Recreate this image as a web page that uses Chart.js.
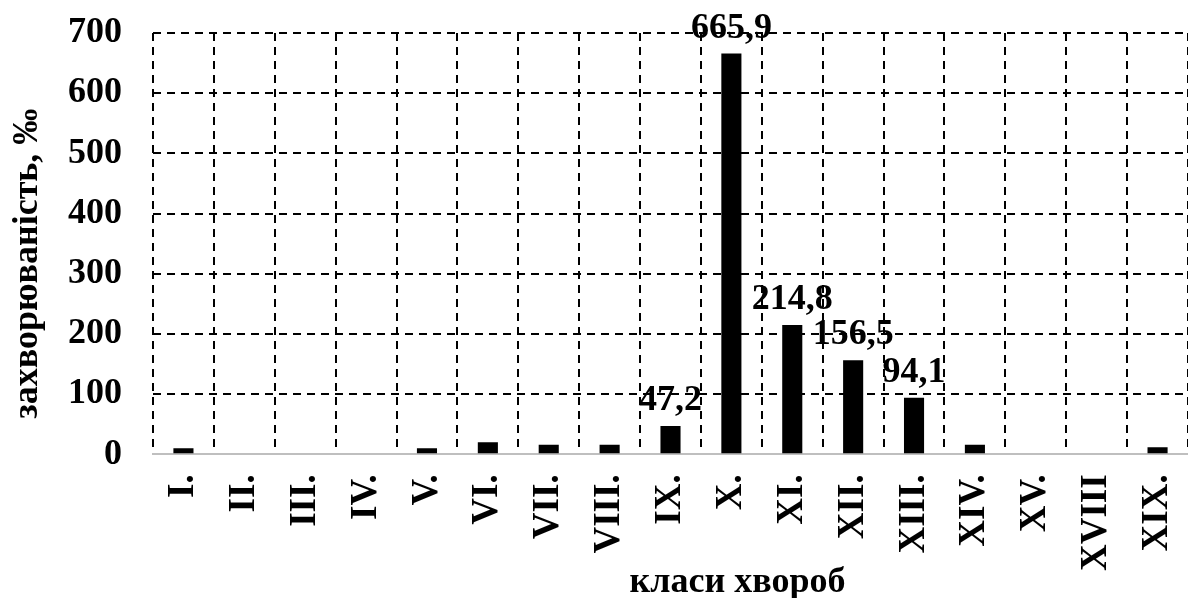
<!DOCTYPE html>
<html>
<head>
<meta charset="utf-8">
<script src="https://cdn.jsdelivr.net/npm/chart.js@4"></script>
<style>
  html, body { margin: 0; padding: 0; background: #fff; }
  #wrap { width: 1188px; height: 598px; position: relative; }
</style>
</head>
<body>
<div id="wrap"><canvas id="chart"></canvas></div>
<script>
// класи хвороб
const categories = ['I.', 'II.', 'III.', 'IV.', 'V.', 'VI.', 'VII.', 'VIII.', 'IX.', 'X.', 'XI.', 'XII.', 'XIII.', 'XIV.', 'XV.', 'XVIII', 'XIX.'];
// захворюваність, ‰
const values = [10, 0, 0, 0, 10, 20, 16, 16, 47.2, 665.9, 214.8, 156.5, 94.1, 16, 0, 0, 12];
const valueLabels = ['', '', '', '', '', '', '', '', '47,2', '665,9', '214,8', '156,5', '94,1', '', '', '', ''];
const yTicks = [0, 100, 200, 300, 400, 500, 600, 700];

const serif = '"Liberation Serif", "Times New Roman", serif';

// value labels over the bars + both axis titles
const labelsPlugin = {
  id: 'barLabels',
  afterDatasetsDraw(chart) {
    const ctx = chart.ctx;
    const meta = chart.getDatasetMeta(0);
    ctx.save();
    ctx.fillStyle = '#000';
    ctx.font = 'bold 36px ' + serif;
    ctx.textAlign = 'center';
    ctx.textBaseline = 'alphabetic';
    meta.data.forEach((bar, i) => {
      if (valueLabels[i]) ctx.fillText(valueLabels[i], bar.x, bar.y - 16);
    });

    const area = chart.chartArea;
    ctx.font = 'bold 36px ' + serif;
    ctx.fillText('класи хвороб', (area.left + area.right) / 2 + 67, chart.height - 6);

    ctx.translate(28, (area.top + area.bottom) / 2 + 20);
    ctx.rotate(-Math.PI / 2);
    ctx.textBaseline = 'middle';
    ctx.font = 'bold 36px ' + serif;
    ctx.fillText('захворюваність, ‰', 0, 0);
    ctx.restore();
  }
};

new Chart(document.getElementById('chart'), {
  type: 'bar',
  data: {
    labels: categories,
    datasets: [{
      data: values,
      backgroundColor: '#000',
      borderWidth: 0,
      barPercentage: 0.33,
      categoryPercentage: 1
    }]
  },
  options: {
    responsive: true,
    maintainAspectRatio: false,
    animation: false,
    layout: { padding: { left: 37, right: 0, top: 33, bottom: 7 } },
    plugins: { legend: { display: false }, tooltip: { enabled: false } },
    scales: {
      x: {
        offset: true,
        afterFit(scale) { scale.paddingLeft = 0; scale.paddingRight = 0; },
        grid: { offset: true, color: '#000', lineWidth: 2, drawTicks: false },
        border: { display: true, color: '#bfbfbf', width: 2, dash: [8, 6] },
        ticks: {
          color: '#000',
          font: { family: serif, size: 37, weight: 'bold' },
          minRotation: 90, maxRotation: 90,
          autoSkip: false,
          padding: 20
        }
      },
      y: {
        min: 0, max: 700,
        afterBuildTicks(scale) { scale.ticks = yTicks.map(v => ({ value: v })); },
        afterFit(scale) { scale.paddingTop = 0; scale.paddingBottom = 0; },
        grid: {
          color: c => (c.tick && c.tick.value === 0 ? 'rgba(0,0,0,0)' : '#000'),
          lineWidth: 2,
          drawTicks: false
        },
        border: { display: false, dash: [8, 6] },
        ticks: {
          color: '#000',
          font: { family: serif, size: 36, weight: 'bold' },
          padding: 31
        }
      }
    }
  },
  plugins: [labelsPlugin]
});
</script>
</body>
</html>
